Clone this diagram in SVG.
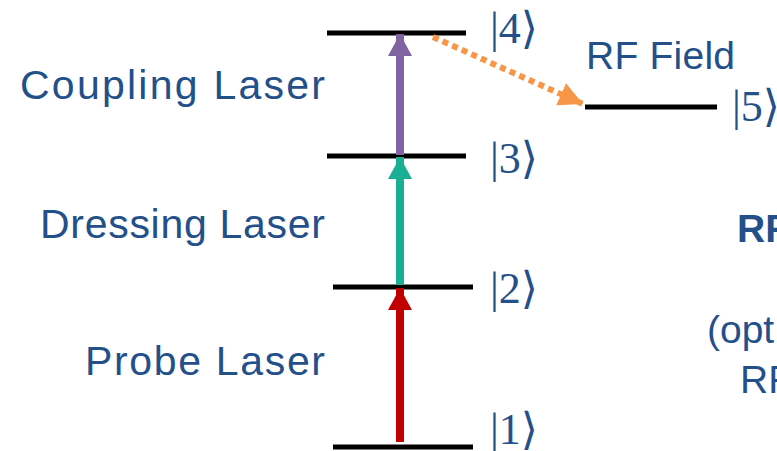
<svg xmlns="http://www.w3.org/2000/svg" width="777" height="451" viewBox="0 0 777 451">
<defs>
<style>
.lvl{stroke:#000;stroke-width:5;fill:none}
.lbl{font-family:"Liberation Sans","DejaVu Sans",sans-serif;font-size:41px;fill:#24508A}
.ket{font-family:"Liberation Serif","DejaVu Serif",serif;font-size:44px;fill:#24508A}
.side{font-family:"Liberation Sans","DejaVu Sans",sans-serif;font-size:39px;fill:#24508A}
</style>
<marker id="hPurple" markerUnits="userSpaceOnUse" markerWidth="24" markerHeight="24" viewBox="0 0 24 24" refX="22" refY="12" orient="auto"><path d="M0,0 L22,12 L0,24 Z" fill="#8064A2"/></marker>
<marker id="hTeal" markerUnits="userSpaceOnUse" markerWidth="24" markerHeight="24" viewBox="0 0 24 24" refX="22" refY="12" orient="auto"><path d="M0,0 L22,12 L0,24 Z" fill="#1AAE95"/></marker>
<marker id="hRed" markerUnits="userSpaceOnUse" markerWidth="24" markerHeight="24" viewBox="0 0 24 24" refX="22" refY="12" orient="auto"><path d="M0,0 L22,12 L0,24 Z" fill="#C00000"/></marker>
<marker id="hOrange" markerUnits="userSpaceOnUse" markerWidth="26" markerHeight="26" viewBox="0 0 26 26" refX="24" refY="13" orient="auto"><path d="M0,1 L24,13 L0,25 Z" fill="#F79646"/></marker>
</defs>
<rect width="777" height="451" fill="#fff"/>

<g id="level4"><line class="lvl" x1="327" y1="33" x2="466" y2="33"/><text class="ket" x="490" y="43">|4⟩</text></g>
<g id="level3"><line class="lvl" x1="327" y1="156" x2="466" y2="156"/><text class="ket" x="490" y="173">|3⟩</text></g>
<g id="level2"><line class="lvl" x1="333" y1="287" x2="473" y2="287"/><text class="ket" x="490" y="303">|2⟩</text></g>
<g id="level1"><line class="lvl" x1="333" y1="447" x2="473" y2="447"/><text class="ket" x="490" y="444">|1⟩</text></g>
<g id="level5"><line class="lvl" x1="585" y1="107" x2="717" y2="107"/><text class="ket" x="732" y="121">|5⟩</text></g>

<g id="labels">
<text class="lbl" x="325" y="99" text-anchor="end" textLength="305" lengthAdjust="spacing">Coupling Laser</text>
<text class="lbl" x="325" y="238" text-anchor="end" textLength="285" lengthAdjust="spacing">Dressing Laser</text>
<text class="lbl" x="325" y="375" text-anchor="end" textLength="240" lengthAdjust="spacing">Probe Laser</text>
<text class="side" x="586" y="69" textLength="149" lengthAdjust="spacing">RF Field</text>
<text class="side" x="737" y="242" font-weight="bold">RF</text>
<text class="side" x="707" y="343">(opt</text>
<text class="side" x="740" y="393">RF</text>
</g>

<g id="connectors">
<line x1="400" y1="155" x2="400" y2="34" stroke="#8064A2" stroke-width="8" marker-end="url(#hPurple)"/>
<line x1="400" y1="285" x2="400" y2="157" stroke="#1AAE95" stroke-width="8" marker-end="url(#hTeal)"/>
<line x1="400" y1="442" x2="400" y2="288" stroke="#C00000" stroke-width="8" marker-end="url(#hRed)"/>
<line x1="433" y1="37" x2="583" y2="104" stroke="#F79646" stroke-width="6" stroke-dasharray="6 4.5" marker-end="url(#hOrange)"/>
</g>
</svg>
